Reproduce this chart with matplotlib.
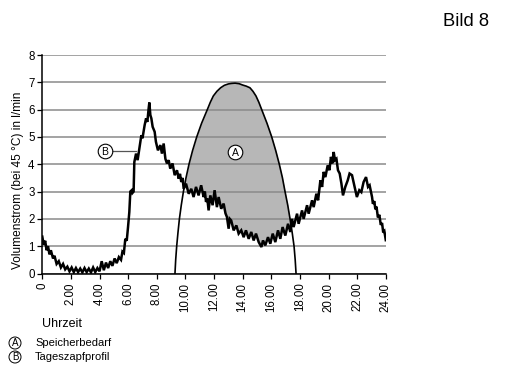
import numpy as np
import matplotlib
matplotlib.use("Agg")
import matplotlib.pyplot as plt

plt.rcParams['font.family'] = ['Liberation Sans', 'DejaVu Sans']

# ---- data ----
# Curve B: Tageszapfprofil (hour, l/min)
b_hours = [0.00, 0.10, 0.20, 0.30, 0.40, 0.50, 0.60, 0.75, 0.85, 1.00, 1.15, 1.30, 1.45, 1.60, 1.75,
           1.90, 2.05, 2.20, 2.35, 2.50, 2.65, 2.80, 2.95, 3.10, 3.25, 3.40, 3.55, 3.70, 3.85, 4.00,
           4.15, 4.30, 4.45, 4.60, 4.75, 4.90, 5.05, 5.20, 5.35, 5.50, 5.60, 5.70, 5.80, 5.90, 5.99,
           6.08, 6.15, 6.25, 6.30, 6.38, 6.43, 6.55, 6.66, 6.78, 6.92, 7.00, 7.15, 7.25, 7.34, 7.43,
           7.48, 7.55, 7.62, 7.71, 7.85, 7.94, 8.08, 8.25, 8.36, 8.48, 8.60, 8.71, 8.83, 8.94, 9.10,
           9.25, 9.41, 9.53, 9.62, 9.71, 9.80, 9.88, 10.04, 10.23, 10.41, 10.57, 10.74, 10.92, 11.10,
           11.27, 11.36, 11.44, 11.53, 11.62, 11.74, 11.90, 12.04, 12.20, 12.32, 12.50, 12.67, 12.80,
           12.90, 13.02, 13.10, 13.20, 13.37, 13.56, 13.72, 13.90, 14.07, 14.23, 14.42, 14.60, 14.77,
           14.93, 15.12, 15.31, 15.42, 15.58, 15.77, 15.93, 16.10, 16.28, 16.47, 16.63, 16.79, 16.98,
           17.17, 17.33, 17.45, 17.56, 17.80, 17.91, 18.15, 18.26, 18.50, 18.61, 18.85, 18.96, 19.15,
           19.27, 19.43, 19.55, 19.66, 19.78, 19.94, 20.06, 20.17, 20.26, 20.36, 20.45, 20.55, 20.66,
           20.78, 20.90, 21.01, 21.17, 21.34, 21.47, 21.64, 21.80, 21.98, 22.15, 22.29, 22.45, 22.62,
           22.76, 22.87, 23.04, 23.10, 23.20, 23.27, 23.35, 23.45, 23.55, 23.65, 23.74, 23.82, 23.90,
           24.00]
b_values = [1.35, 1.05, 1.20, 0.85, 1.00, 0.70, 0.85, 0.55, 0.65, 0.35, 0.45, 0.22, 0.35, 0.15, 0.25,
            0.08, 0.22, 0.05, 0.20, 0.05, 0.18, 0.04, 0.20, 0.05, 0.18, 0.04, 0.22, 0.05, 0.20, 0.08,
            0.45, 0.12, 0.40, 0.20, 0.45, 0.28, 0.55, 0.38, 0.60, 0.50, 0.80, 0.75, 1.27, 1.20, 1.70,
            2.25, 3.00, 3.05, 2.95, 3.00, 4.08, 4.39, 4.15, 4.58, 5.06, 4.95, 5.43, 5.68, 5.55, 6.04,
            6.26, 5.80, 5.68, 5.37, 5.19, 4.82, 4.51, 4.70, 4.39, 4.76, 4.20, 4.03, 4.15, 3.84, 4.03,
            3.60, 3.78, 3.47, 3.65, 3.35, 3.50, 3.10, 3.29, 2.92, 3.10, 2.80, 3.17, 2.86, 3.23,
            2.80, 3.00, 2.62, 2.75, 2.31, 2.86, 2.50, 3.05, 2.43, 2.80, 2.37, 2.56, 2.20,
            2.07, 1.64, 2.00, 1.94, 1.58, 1.76, 1.46, 1.58, 1.33, 1.58, 1.27, 1.52, 1.21,
            1.46, 1.15, 0.97, 1.21, 1.03, 1.33, 1.09, 1.46, 1.15, 1.58, 1.27, 1.70, 1.39,
            1.82, 1.52, 2.00, 1.70, 2.19, 1.82, 2.31, 2.00, 2.50, 2.19, 2.68, 2.43, 2.92,
            2.68, 3.41, 3.17, 3.72, 3.53, 3.96, 3.78, 4.27, 4.03, 4.45, 4.15, 4.20, 3.78,
            3.66, 3.29, 2.86, 3.17, 3.41, 3.66, 3.60, 3.23, 2.80, 3.05, 2.98, 3.35, 3.53,
            3.17, 3.23, 2.80, 2.55, 2.65, 2.35, 2.45, 2.05, 2.15, 1.78, 1.85, 1.50, 1.55,
            1.22]

# Curve A: Speicherbedarf (hour, l/min)
a_hours = [9.27, 9.32, 9.39, 9.48, 9.58, 9.71, 9.86, 10.04, 10.25, 10.50, 10.79, 11.13, 11.53, 11.74,
           11.95, 12.20, 12.46, 12.72, 13.00, 13.22, 13.47, 13.75, 14.00, 14.25, 14.51, 14.72, 14.93,
           15.13, 15.33, 15.70, 16.03, 16.31, 16.56, 16.78, 16.96, 17.15, 17.31, 17.46, 17.59, 17.67,
           17.73]
a_values = [0.0, 0.5, 1.0, 1.5, 2.0, 2.5, 3.0, 3.5, 4.0, 4.5, 5.0, 5.5, 6.0, 6.27,
            6.5, 6.67, 6.8, 6.89, 6.94, 6.96, 6.97, 6.95, 6.9, 6.86, 6.8, 6.67, 6.5,
            6.27, 6.0, 5.5, 5.0, 4.5, 4.0, 3.5, 3.0, 2.5, 2.0, 1.5, 1.0, 0.5,
            0.0]

x_ticks = [0, 2, 4, 6, 8, 10, 12, 14, 16, 18, 20, 22, 24]
x_tick_labels = ['0', '2.00', '4.00', '6.00', '8.00', '10.00', '12.00', '14.00',
                 '16.00', '18.00', '20.00', '22.00', '24.00']
y_ticks = [0, 1, 2, 3, 4, 5, 6, 7, 8]

W, H = 506, 383
fig = plt.figure(figsize=(W / 100, H / 100), dpi=100)
fig.patch.set_facecolor('white')

def fx(px):
    return px / W

def fy(py):
    return 1 - py / H

ax = fig.add_axes([fx(42.3), fy(273.5), (386.5 - 42.3) / W, (273.5 - 55.0) / H])
ax.set_xlim(0, 24.05)
ax.set_ylim(0, 8)

# grid
ax.yaxis.grid(True, color='#8a8a8a', linewidth=1.1)
ax.xaxis.grid(False)

for s in ['top', 'right']:
    ax.spines[s].set_visible(False)
ax.spines['left'].set_linewidth(1.1)
ax.spines['bottom'].set_linewidth(1.1)

ax.set_yticks(y_ticks)
ax.set_xticks(x_ticks)
ax.set_xticklabels(x_tick_labels, rotation=90)
ax.tick_params(axis='y', length=3.5, width=0.9, pad=2, labelsize=8.3)
ax.tick_params(axis='x', length=3.5, width=0.9, pad=3, labelsize=8.3)

# fill between A and B
xs = np.linspace(min(a_hours), max(a_hours), 1200)
a_i = np.interp(xs, a_hours, a_values)
b_i = np.interp(xs, b_hours, b_values)
ax.fill_between(xs, b_i, a_i, where=a_i > b_i, interpolate=True,
                color='#b7b7b7', linewidth=0, zorder=1)

ax.plot(a_hours, a_values, color='black', linewidth=1.2, zorder=3)
ax.plot(b_hours, b_values, color='black', linewidth=1.8, zorder=4, solid_joinstyle='miter')

# circled labels in plot
ax.plot([4.85, 6.55], [4.47, 4.47], color='#555555', linewidth=0.9, zorder=2)
for (hx, vy, t) in [(13.47, 4.45, 'A'), (4.38, 4.47, 'B')]:
    ax.plot([hx], [vy], marker='o', markersize=10.5, markerfacecolor='white',
            markeredgecolor='black', markeredgewidth=0.8, zorder=5)
    ax.text(hx, vy - 0.02, t, ha='center', va='center', fontsize=7.5, zorder=6)

# y label
fig.text(fx(18), fy(180), 'Volumenstrom (bei 45 °C) in l/min', rotation=90,
         ha='center', va='center', fontsize=8.6)

# x label
fig.text(fx(42), fy(327), 'Uhrzeit', ha='left', va='baseline', fontsize=9)

# title
fig.text(fx(443), fy(26), 'Bild 8', ha='left', va='baseline', fontsize=13.2)

# legend
for (py, t, lab) in [(343, 'A', 'Speicherbedarf'), (357, 'B', 'Tageszapfprofil')]:
    fig.add_artist(matplotlib.patches.Ellipse((fx(15), fy(py)), 12 / W, 12 / H,
                                              facecolor='white', edgecolor='black',
                                              linewidth=0.7, transform=fig.transFigure))
    fig.text(fx(15), fy(py + 0.3), t, ha='center', va='center', fontsize=7)
    fig.text(fx(35), fy(py), lab, ha='left', va='center', fontsize=8)

fig.savefig('out.png', dpi=100)
